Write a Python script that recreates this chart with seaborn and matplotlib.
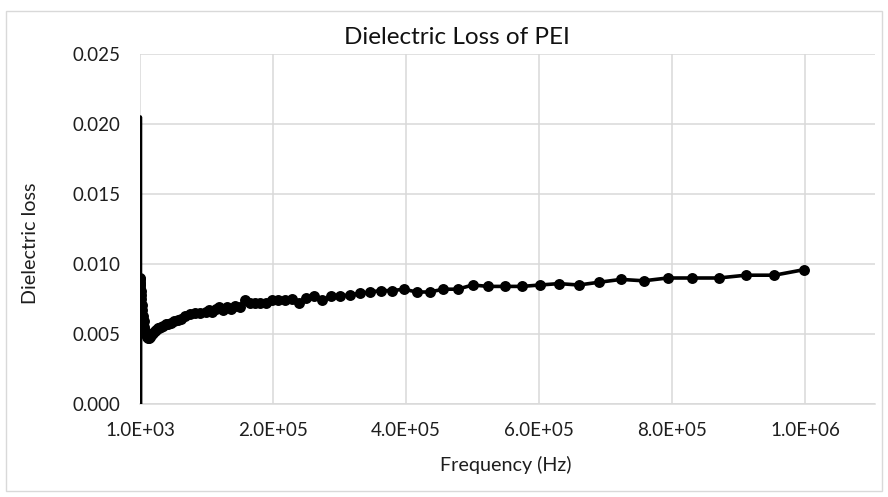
import matplotlib
matplotlib.use("Agg")
import matplotlib.pyplot as plt
import seaborn as sns
import pandas as pd
from matplotlib.patches import Rectangle

# ---- data ----
freq_hz = [
    1000, 1096, 1202, 1318, 1445, 1514, 1585, 1738, 2089, 2512, 3020, 3631, 4365, 5248, 6310, 7586, 9120,
    10000, 10965, 12023, 13183, 14454, 15849, 17378, 19055, 20893, 22909, 25119, 27542, 30200, 33113,
    36308, 39811, 43652, 47863, 52481, 57544, 63096, 69183, 75858, 83176, 91201,
    100000, 104713, 109648, 114815, 120226, 125893, 131826, 138038, 144544, 151356, 158489, 165959,
    173780, 181970, 190546, 199526, 208930, 218776, 229087, 239883, 251189, 263027, 275423, 288403,
    301995, 316228, 331131, 346737, 363078, 380189, 398107, 416869, 436516, 457088, 478630, 501187,
    524807, 549541, 575440, 602560, 630957, 660693, 691831, 724436, 758578, 794328, 831764, 870964,
    912011, 954993, 1000000,
]
dielectric_loss = [
    0.0090, 0.0089, 0.0087, 0.0086, 0.0085, 0.0205, 0.0000, 0.0083, 0.0081, 0.0078, 0.0075, 0.0071, 0.0067, 0.0063, 0.0059, 0.0055, 0.0052,
    0.0050, 0.0049, 0.0048, 0.0047, 0.0047, 0.0048, 0.0049, 0.0050, 0.0051, 0.0052, 0.0053, 0.0054, 0.0054, 0.0055,
    0.0056, 0.0057, 0.0057, 0.0058, 0.0059, 0.0060, 0.0061, 0.0063, 0.0064, 0.0065, 0.0065,
    0.0066, 0.0067, 0.0066, 0.0068, 0.0069, 0.0067, 0.0069, 0.0068, 0.0070, 0.0069, 0.0074, 0.0072,
    0.0072, 0.0072, 0.0072, 0.0074, 0.0074, 0.0074, 0.0075, 0.0072, 0.0076, 0.0077, 0.0074, 0.0077,
    0.0077, 0.0078, 0.0079, 0.0080, 0.0081, 0.0081, 0.0082, 0.0080, 0.0080, 0.0082, 0.0082, 0.0085,
    0.0084, 0.0084, 0.0084, 0.0085, 0.0086, 0.0085, 0.0087, 0.0089, 0.0088, 0.0090, 0.0090, 0.0090,
    0.0092, 0.0092, 0.0096,
]
# points drawn without a marker (the spike at the lowest frequencies)
no_marker_idx = [5, 6]

x_ticks = [1000, 201000, 401000, 601000, 801000, 1001000]
x_tick_labels = ["1.0E+03", "2.0E+05", "4.0E+05", "6.0E+05", "8.0E+05", "1.0E+06"]
y_ticks = [0.0, 0.005, 0.010, 0.015, 0.020, 0.025]
y_tick_labels = ["0.000", "0.005", "0.010", "0.015", "0.020", "0.025"]

title = "Dielectric Loss of PEI"
x_label = "Frequency (Hz)"
y_label = "Dielectric loss"

# ---- plotting ----
sns.set_theme(style="white")
plt.rcParams["font.family"] = ["Lato", "DejaVu Sans"]

df = pd.DataFrame({"freq": freq_hz, "loss": dielectric_loss})
df_markers = df.drop(index=no_marker_idx)

fig = plt.figure(figsize=(8.88, 4.97), dpi=100)
ax = fig.add_axes([140 / 888, 1 - 404 / 497, 735 / 888, 350 / 497])

sns.lineplot(data=df, x="freq", y="loss", sort=False, estimator=None,
             color="black", linewidth=2.6, ax=ax, zorder=3)
sns.scatterplot(data=df_markers, x="freq", y="loss", color="black",
                s=62, linewidth=0, ax=ax, zorder=4)

ax.set_xlim(1000, 1.1063e6)
ax.set_ylim(0, 0.025)
ax.set_xticks(x_ticks)
ax.set_xticklabels(x_tick_labels)
ax.set_yticks(y_ticks)
ax.set_yticklabels(y_tick_labels)

grid_col = "#d9d9d9"
ax.grid(True, color=grid_col, linewidth=1.1)
ax.set_axisbelow(True)
for side in ["left", "right", "top"]:
    ax.spines[side].set_visible(False)
ax.spines["bottom"].set_color(grid_col)
ax.spines["bottom"].set_linewidth(1.1)

text_col = "#1e1e1e"
ax.tick_params(axis="both", length=0, labelsize=13.5, labelcolor=text_col)
ax.tick_params(axis="y", pad=14)
ax.tick_params(axis="x", pad=13)

ax.set_xlabel(x_label, fontsize=14.2, color=text_col)
ax.set_ylabel(y_label, fontsize=14.2, color=text_col)
ax.xaxis.set_label_coords(0.497, -0.149)
ax.yaxis.set_label_coords(-0.137, 0.46)

fig.text(457 / 888, 1 - 38 / 497, title, ha="center", va="center",
         fontsize=17.5, color="#111111")

fig.patches.append(Rectangle((6 / 888, 1 - 491 / 497), 876 / 888, 480 / 497,
                             transform=fig.transFigure, fill=False,
                             edgecolor="#d9d9d9", linewidth=1.0))

fig.savefig("out.png", dpi=100)
